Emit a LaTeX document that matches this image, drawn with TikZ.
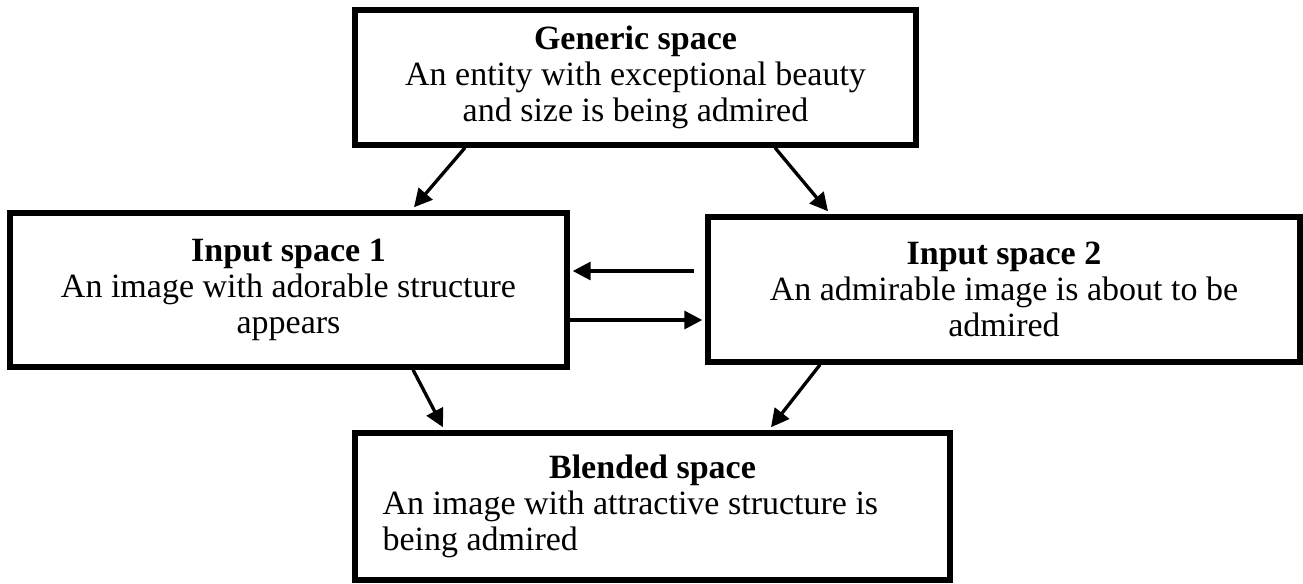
\documentclass[tikz,border=0pt]{standalone}
\usepackage{fontspec}
\setmainfont{Liberation Serif}
\usetikzlibrary{arrows.meta,calc}

\begin{document}
\begin{tikzpicture}[x=0.75pt,y=-0.75pt,
  spacebox/.style={draw, line width=4.1pt, inner sep=0pt, align=center,
    font=\fontsize{25.5pt}{27pt}\selectfont},
  flow/.style={line width=2.5pt, -{Triangle[length=13.5pt,width=13.5pt]}}]
\path[use as bounding box] (0,0) rectangle (1303,583);

% the four mental spaces
\node[spacebox, minimum width=420.75pt, minimum height=101.25pt] (gen) at (635.5,77.5)
  {\textbf{Generic space}\\An entity with exceptional beauty\\and size is being admired};
\node[spacebox, minimum width=417.75pt, minimum height=115.5pt] (in1) at (288.5,290)
  {\textbf{Input space 1}\\An image with adorable structure\\appears};
\node[spacebox, minimum width=444pt, minimum height=108.75pt] (in2) at (1004,289.5)
  {\textbf{Input space 2}\\An admirable image is about to be\\admired};
\node[spacebox, minimum width=446.25pt, minimum height=110.25pt, align=flush left, text width=405pt] (bl) at (652.5,506.5)
  {\makebox[405pt][c]{\textbf{Blended space}}\\An image with attractive structure is\\being admired};

% projections between the spaces
\draw[flow] ($(gen.south)+(-170.5,0)$) -- ($(in1.north)+(125.5,-3)$);
\draw[flow] ($(gen.south)+(139.5,0)$) -- ($(in2.north)+(-176,-3)$);
\draw[flow] ($(in2.west)+(-11,-18.5)$) -- ($(in1.east)+(3,-19)$);
\draw[flow] ($(in1.east)+(0,30)$) -- ($(in2.west)+(-3,30.5)$);
\draw[flow] ($(in1.south)+(124.5,0)$) -- ($(bl.north)+(-209.5,-3)$);
\draw[flow] ($(in2.south)+(-184,0)$) -- ($(bl.north)+(118.5,-3)$);
\end{tikzpicture}
\end{document}
